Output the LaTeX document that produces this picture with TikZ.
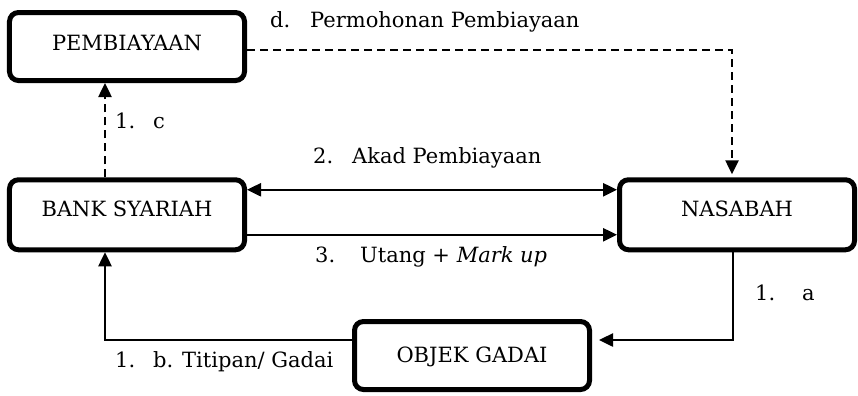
\documentclass[tikz,border=0pt]{standalone}
\usepackage{fontspec}
\setmainfont{DejaVu Serif}
\usetikzlibrary{arrows.meta}
\begin{document}
\begin{tikzpicture}[x=1bp,y=-1bp,
  font=\fontsize{21bp}{25bp}\selectfont,
  party/.style={draw, line width=5bp, rounded corners=9bp,
    minimum width=235bp, inner sep=0pt, text height=15.3bp},
  flow/.style={line width=2.5bp, -{Triangle[length=14bp,width=13bp]}},
  bothflow/.style={line width=2.5bp, {Triangle[length=14bp,width=13bp]}-{Triangle[length=14bp,width=13bp]}},
  dashflow/.style={flow, dash pattern=on 8bp off 5bp},
  tag/.style={anchor=base west, inner sep=0pt}]
  \useasboundingbox[fill=white] (0,0) rectangle (858,395);

  % the four parties
  \node[party, minimum height=68bp, text depth=8.3bp] (pemb) at (127,46.5) {PEMBIAYAAN};
  \node[party, minimum height=70bp, text depth=12.3bp] (bank) at (127,214.75) {BANK SYARIAH};
  \node[party, minimum height=70bp, text depth=12.3bp] (nas) at (737,214.75) {NASABAH};
  \node[party, minimum height=68bp, text depth=1.3bp] (obj) at (472,355.5) {OBJEK GADAI};

  % connectors
  \draw[dashflow, shorten >=3bp] ([yshift=-3.5bp]pemb.east) -| ([xshift=-5bp]nas.north);
  \draw[dashflow] ([xshift=-22bp]bank.north) -- ([xshift=-22bp]pemb.south);
  \draw[bothflow] ([yshift=25bp]bank.east) -- ([yshift=25bp]nas.west);
  \draw[flow] ([yshift=-20bp]bank.east) -- ([yshift=-20bp]nas.west);
  \draw[flow, shorten >=7bp] ([xshift=-4bp]nas.south) |- ([yshift=15.5bp]obj.east);
  \draw[flow] ([yshift=15.5bp]obj.west) -| ([xshift=-22bp]bank.south);

  % step labels
  \node[tag] (ld) at (270,27) {\makebox[40bp][l]{d.}Permohonan Pembiayaan};
  \node[tag] (lc) at (115,128) {\makebox[38bp][l]{1.}c};
  \node[tag] (l2) at (313,163) {\makebox[39bp][l]{2.}Akad Pembiayaan};
  \node[tag] (l3) at (315,262) {\makebox[45bp][l]{3.}Utang + \textit{Mark up}};
  \node[tag] (la) at (755,300) {\makebox[47bp][l]{1.}a};
  \node[tag] (lb) at (115,367) {\makebox[38bp][l]{1.}b. Titipan/ Gadai};
\end{tikzpicture}
\end{document}
